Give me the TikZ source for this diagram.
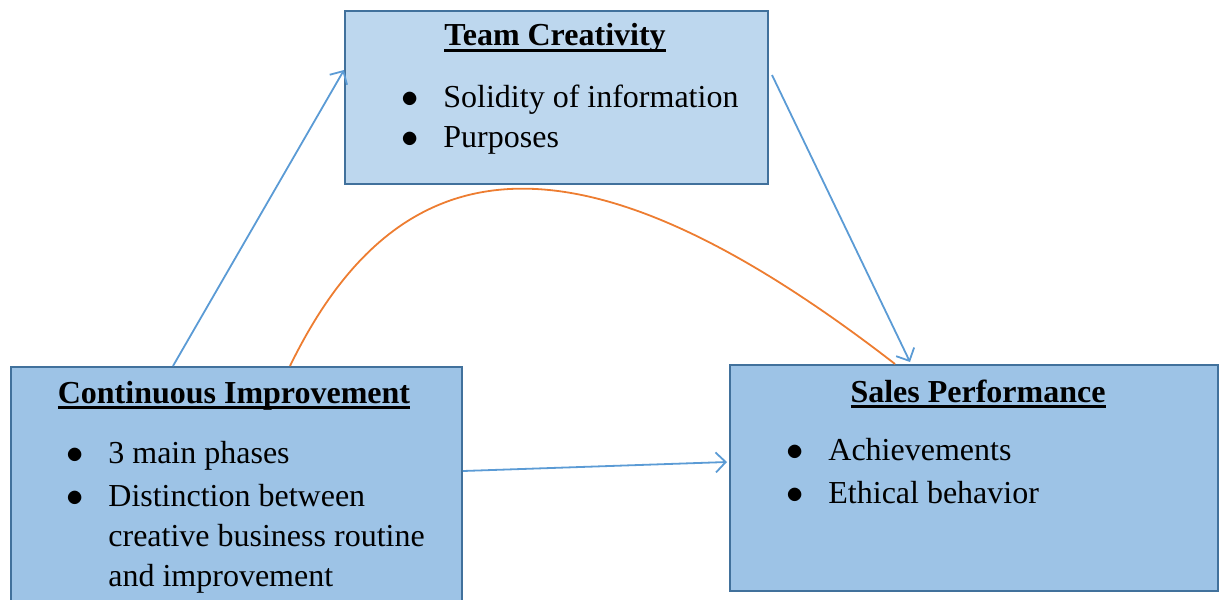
\documentclass[tikz,border=0pt]{standalone}
\usepackage{fontspec}
\setmainfont{Liberation Serif}
\usetikzlibrary{calc, arrows.meta}

\definecolor{boxLight}{HTML}{BDD7EE}
\definecolor{boxDark}{HTML}{9DC3E6}
\definecolor{boxEdge}{HTML}{41719C}
\definecolor{linkBlue}{HTML}{5B9BD5}
\definecolor{linkOrange}{HTML}{ED7D31}

% bold heading with a heavy underline
\newcommand{\boxTitle}[1]{\setbox0\hbox{\bfseries #1}\rlap{\usebox0}\rule[-3pt]{\wd0}{1.4pt}}
\newcommand{\dotMark}{\makebox[21pt][l]{$\bullet$}}

\tikzset{
	factor/.style={draw=boxEdge, line width=1pt, rectangle, anchor=north west, inner sep=0pt},
	title/.style={font=\fontsize{16}{20}\selectfont, anchor=base, inner sep=0pt},
	points/.style={font=\fontsize{16}{20}\selectfont, anchor=base west, inner sep=0pt},
	link/.style={draw=linkBlue, line width=0.9pt, -{Straight Barb[length=5pt, width=10pt]}},
}

\begin{document}
\begin{tikzpicture}[x=0.5pt, y=-0.5pt]

	\clip (0,0) rectangle (1219,599);

	% Team creativity
	\node[factor, fill=boxLight, minimum width=211.5pt, minimum height=86.5pt] (team) at (344,10) {};
	\node[title] (team_title) at (555,46) {\boxTitle{Team Creativity}};
	\node[points] (team_points) at (401,107) {\begin{tabular}[t]{@{}l@{}l@{}}
		\dotMark & Solidity of information\\[0.5pt]
		\dotMark & Purposes
	\end{tabular}};

	% Continuous improvement
	\node[factor, fill=boxDark, minimum width=225.5pt, minimum height=122pt] (improvement) at (10,366) {};
	\node[title] (improvement_title) at (234,403) {\boxTitle{Continuous Improvement}};
	\node[points] (improvement_points) at (66,463) {\begin{tabular}[t]{@{}l@{}l@{}}
		\dotMark & 3 main phases\\[1.5pt]
		\dotMark & Distinction between\\
		 & creative business routine\\
		 & and improvement
	\end{tabular}};

	% Sales performance
	\node[factor, fill=boxDark, minimum width=244pt, minimum height=113pt] (sales) at (729,364) {};
	\node[title] (sales_title) at (978,402) {\boxTitle{Sales Performance}};
	\node[points] (sales_points) at (786,460) {\begin{tabular}[t]{@{}l@{}l@{}}
		\dotMark & Achievements\\[1.5pt]
		\dotMark & Ethical behavior
	\end{tabular}};

	% Links
	\draw[link] ([xshift=81.5pt]improvement.north west) -- ([yshift=-30pt]team.north west);
	\draw[link] ([xshift=1.5pt, yshift=-32.5pt]team.north east) -- ([xshift=90.5pt, yshift=1pt]sales.north west);
	\draw[link] ([yshift=-52.5pt]improvement.north east) -- ([xshift=-1pt, yshift=-49pt]sales.north west);

	% Direct effect
	\draw[linkOrange, line width=0.9pt] ([xshift=140pt]improvement.north west)
		.. controls (400,140) and (580,120) .. ([xshift=83pt]sales.north west);

\end{tikzpicture}
\end{document}
